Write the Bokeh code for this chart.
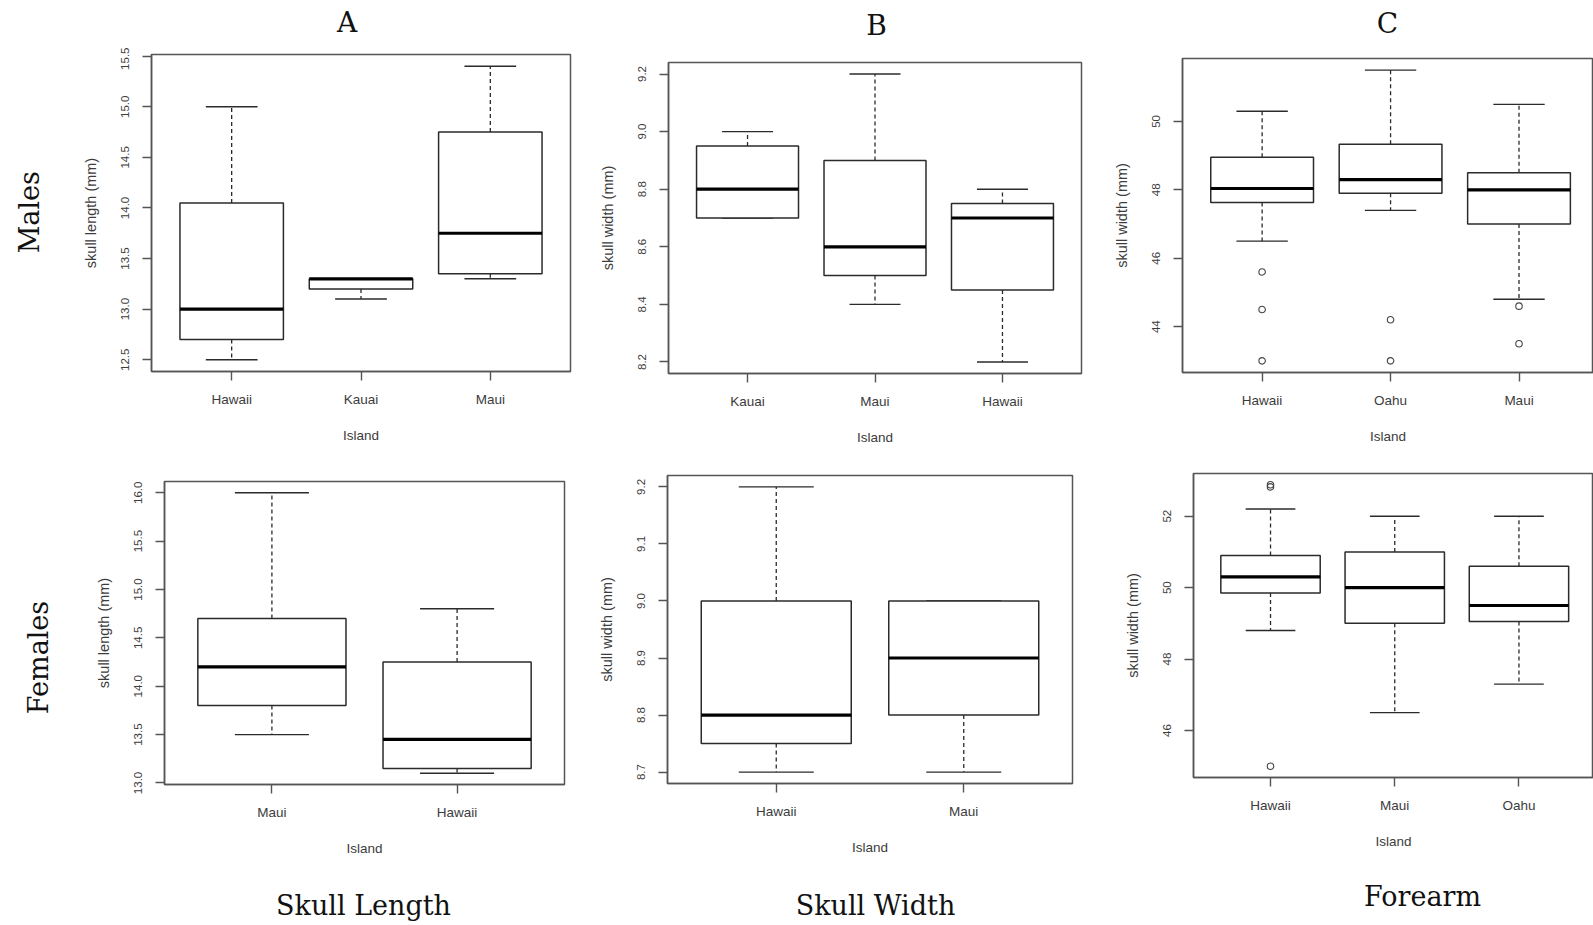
import math
from bokeh.plotting import figure
from bokeh.layouts import column, row
from bokeh.models import Range1d, FixedTicker, PrintfTickFormatter
from bokeh.embed import file_html
from bokeh.resources import INLINE
from bokeh.core.properties import value

# ---------------- data ----------------
# Males - skull length (A)
ml_islands = ["Hawaii", "Kauai", "Maui"]
ml_low = [12.5, 13.1, 13.3]
ml_q1 = [12.7, 13.2, 13.35]
ml_med = [13.0, 13.3, 13.75]
ml_q3 = [14.05, 13.3, 14.75]
ml_high = [15.0, 13.3, 15.4]
ml_out_island = []
ml_out_value = []
ml_yticks = [12.5, 13.0, 13.5, 14.0, 14.5, 15.0, 15.5]

# Males - skull width (B)
mw_islands = ["Kauai", "Maui", "Hawaii"]
mw_low = [8.7, 8.4, 8.2]
mw_q1 = [8.7, 8.5, 8.45]
mw_med = [8.8, 8.6, 8.7]
mw_q3 = [8.95, 8.9, 8.75]
mw_high = [9.0, 9.2, 8.8]
mw_out_island = []
mw_out_value = []
mw_yticks = [8.2, 8.4, 8.6, 8.8, 9.0, 9.2]

# Males - forearm (C)
mf_islands = ["Hawaii", "Oahu", "Maui"]
mf_low = [46.5, 47.4, 44.8]
mf_q1 = [47.63, 47.9, 47.0]
mf_med = [48.04, 48.3, 48.0]
mf_q3 = [48.95, 49.33, 48.5]
mf_high = [50.3, 51.5, 50.5]
mf_out_island = ["Hawaii", "Hawaii", "Hawaii", "Oahu", "Oahu", "Maui", "Maui"]
mf_out_value = [45.6, 44.5, 43.0, 44.2, 43.0, 44.6, 43.5]
mf_yticks = [44, 46, 48, 50]

# Females - skull length (A)
fl_islands = ["Maui", "Hawaii"]
fl_low = [13.5, 13.1]
fl_q1 = [13.8, 13.15]
fl_med = [14.2, 13.45]
fl_q3 = [14.7, 14.25]
fl_high = [16.0, 14.8]
fl_out_island = []
fl_out_value = []
fl_yticks = [13.0, 13.5, 14.0, 14.5, 15.0, 15.5, 16.0]

# Females - skull width (B)
fw_islands = ["Hawaii", "Maui"]
fw_low = [8.7, 8.7]
fw_q1 = [8.75, 8.8]
fw_med = [8.8, 8.9]
fw_q3 = [9.0, 9.0]
fw_high = [9.2, 9.0]
fw_out_island = []
fw_out_value = []
fw_yticks = [8.7, 8.8, 8.9, 9.0, 9.1, 9.2]

# Females - forearm (C)
ff_islands = ["Hawaii", "Maui", "Oahu"]
ff_low = [48.8, 46.5, 47.3]
ff_q1 = [49.85, 49.0, 49.05]
ff_med = [50.3, 50.0, 49.5]
ff_q3 = [50.9, 51.0, 50.6]
ff_high = [52.2, 52.0, 52.0]
ff_out_island = ["Hawaii", "Hawaii", "Hawaii"]
ff_out_value = [52.82, 52.88, 45.0]
ff_yticks = [46, 48, 50, 52]

col_titles = ["A", "B", "C"]
row_titles = ["Males", "Females"]
bottom_titles = ["Skull Length", "Skull Width", "Forearm"]

# ---------------- styling ----------------
FRAME = "#555555"
BOX = "#2b2b2b"
TXT = "#3c3c3c"
SANS = "Liberation Sans"
SERIF = "DejaVu Serif"
BOXW = 0.8
CAPW = 0.4


def panel(islands, low, q1, med, q3, high, out_isl, out_val, yticks, fmt,
          ylabel, width, height, bl, br, bt, bb, x_end=None):
    n = len(islands)
    pos = [i + 1 for i in range(n)]
    lo = min(low + out_val)
    hi = max(high + out_val)
    pad = 0.04 * (hi - lo)
    xs = 0.5 - 0.04 * n
    xe = (n + 0.5 + 0.04 * n) if x_end is None else x_end
    p = figure(width=width, height=height, x_range=Range1d(xs, xe),
               y_range=Range1d(lo - pad, hi + pad), output_backend="svg",
               toolbar_location=None, title=None,
               min_border_left=bl, min_border_right=br,
               min_border_top=bt, min_border_bottom=bb)
    p.frame_align = False
    p.grid.visible = False
    p.background_fill_color = "white"
    p.border_fill_color = "white"
    p.outline_line_color = FRAME
    p.outline_line_width = 1.5

    half = BOXW / 2
    cap = CAPW / 2
    # whiskers (dashed)
    p.segment(x0=pos, y0=q3, x1=pos, y1=high, line_color=BOX, line_width=1.3,
              line_dash="4 3")
    p.segment(x0=pos, y0=q1, x1=pos, y1=low, line_color=BOX, line_width=1.3,
              line_dash="4 3")
    # staples
    p.segment(x0=[x - cap for x in pos], y0=high, x1=[x + cap for x in pos], y1=high,
              line_color=BOX, line_width=1.4)
    p.segment(x0=[x - cap for x in pos], y0=low, x1=[x + cap for x in pos], y1=low,
              line_color=BOX, line_width=1.4)
    # boxes
    p.quad(left=[x - half for x in pos], right=[x + half for x in pos],
           bottom=q1, top=q3, fill_color="white", line_color=BOX, line_width=1.5)
    # medians
    p.segment(x0=[x - half for x in pos], y0=med, x1=[x + half for x in pos], y1=med,
              line_color="black", line_width=3.2)
    # outliers
    if out_val:
        ox = [pos[islands.index(i)] for i in out_isl]
        p.scatter(x=ox, y=out_val, marker="circle", size=6.5, fill_color=None,
                  line_color="#444444", line_width=1.1)

    xa = p.xaxis[0]
    xa.ticker = FixedTicker(ticks=pos)
    xa.major_label_overrides = {x: lab for x, lab in zip(pos, islands)}
    xa.axis_label = "Island"
    ya = p.yaxis[0]
    ya.ticker = FixedTicker(ticks=yticks)
    ya.formatter = PrintfTickFormatter(format=fmt)
    ya.major_label_orientation = "vertical"
    ya.axis_label = ylabel
    for ax, lsize in ((xa, "13.5px"), (ya, "11.5px")):
        ax.axis_line_color = FRAME
        ax.axis_line_width = 1.5
        ax.major_tick_line_color = FRAME
        ax.major_tick_line_width = 1.4
        ax.major_tick_out = 9
        ax.major_tick_in = 0
        ax.minor_tick_line_color = None
        ax.major_label_text_font = SANS
        ax.major_label_text_font_size = lsize
        ax.major_label_text_color = TXT
        ax.axis_label_text_font = SANS
        ax.axis_label_text_font_style = "normal"
        ax.axis_label_text_color = TXT
    xa.major_label_standoff = 11
    xa.axis_label_text_font_size = "13.5px"
    xa.axis_label_standoff = 18
    ya.major_label_standoff = 13
    ya.axis_label_text_font_size = "14.5px"
    ya.axis_label_standoff = 20
    return p


def strip(width, height, xs, ys, texts, angle=0.0, size="27px"):
    # ys are distances from the strip's top edge (cap centres)
    s = figure(width=width, height=height, x_range=Range1d(0, width),
               y_range=Range1d(0, height), output_backend="svg",
               toolbar_location=None, title=None, min_border=0,
               x_axis_type=None, y_axis_type=None)
    s.frame_align = False
    s.grid.visible = False
    s.outline_line_color = None
    s.text(x=xs, y=[height - y for y in ys], text=texts, angle=angle,
           text_font=value(SERIF), text_font_size=size, text_align="center",
           text_baseline="middle", text_color="#111111")
    return s


W0, WA, WB, WC = 60, 530, 510, 493
H0, H1, H2, H3 = 47, 408, 405, 65

top = strip(1593, H0, [346.7, 876, 1387], [22.2, 25.0, 23.3], col_titles, size="28px")
left1 = strip(W0, H1, [28.5], [211.7 - H0], row_titles[:1], angle=math.pi / 2)
left2 = strip(W0, H2, [37.6], [657 - H0 - H1], row_titles[1:], angle=math.pi / 2)
bottom = strip(1593, H3, [363, 875, 1422],
               [905 - (H0 + H1 + H2), 905 - (H0 + H1 + H2), 896.3 - (H0 + H1 + H2)],
               bottom_titles)

# top row: frames at y 54-371, 62-373, 58-372 on the page
pA1 = panel(ml_islands, ml_low, ml_q1, ml_med, ml_q3, ml_high, ml_out_island, ml_out_value,
            ml_yticks, "%.1f", "skull length (mm)", WA, H1, 91, 20, 54 - H0, 84)
pB1 = panel(mw_islands, mw_low, mw_q1, mw_med, mw_q3, mw_high, mw_out_island, mw_out_value,
            mw_yticks, "%.1f", "skull width (mm)", WB, H1, 78, 19, 62 - H0, 82)
pC1 = panel(mf_islands, mf_low, mf_q1, mf_med, mf_q3, mf_high, mf_out_island, mf_out_value,
            mf_yticks, "%d", "skull width (mm)", WC, H1, 82, 0, 58 - H0, 83, x_end=3.58)
pA2 = panel(fl_islands, fl_low, fl_q1, fl_med, fl_q3, fl_high, fl_out_island, fl_out_value,
            fl_yticks, "%.1f", "skull length (mm)", WA, H2, 104, 26, 26, 76)
pB2 = panel(fw_islands, fw_low, fw_q1, fw_med, fw_q3, fw_high, fw_out_island, fw_out_value,
            fw_yticks, "%.1f", "skull width (mm)", WB, H2, 77, 28, 20, 77)
pC2 = panel(ff_islands, ff_low, ff_q1, ff_med, ff_q3, ff_high, ff_out_island, ff_out_value,
            ff_yticks, "%d", "skull width (mm)", WC, H2, 93, 0, 18, 83, x_end=3.60)

layout = column(top,
                row(left1, pA1, pB1, pC1, spacing=0),
                row(left2, pA2, pB2, pC2, spacing=0),
                bottom, spacing=0)

open("out.html", "w").write(file_html(layout, INLINE))
